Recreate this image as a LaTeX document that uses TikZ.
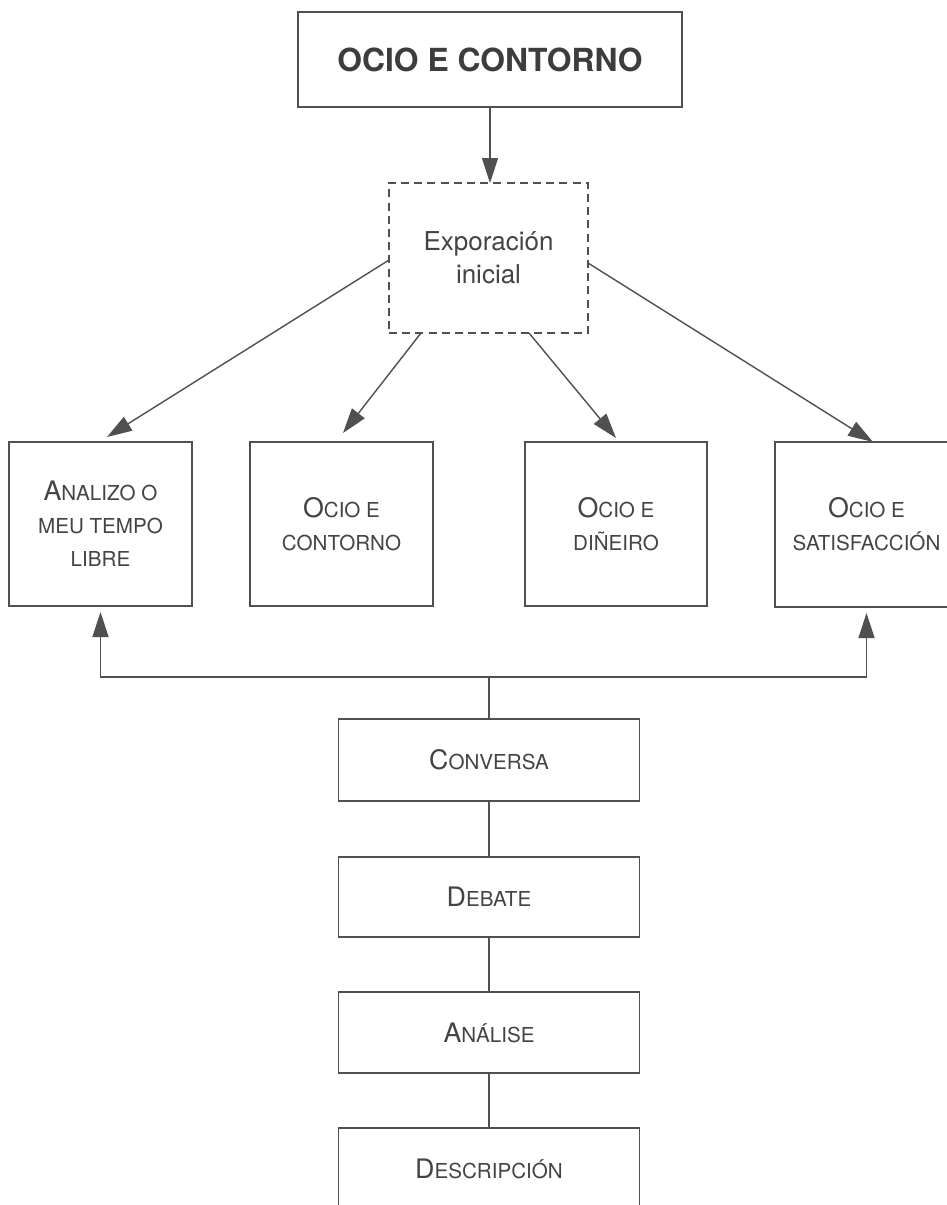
\documentclass[tikz,border=0pt]{standalone}
\usepackage{fontspec}
\setmainfont{TeX Gyre Heros}
\usetikzlibrary{arrows.meta,calc}
\definecolor{lncol}{RGB}{80,80,80}
\definecolor{txcol}{RGB}{68,68,68}
\newcommand\SCbig[1]{{\fontsize{13.4}{16.5}\selectfont #1}}
\begin{document}
\begin{tikzpicture}[x=0.5pt,y=-0.5pt,
  box/.style={draw=lncol,line width=0.75pt,inner sep=0pt,outer sep=0pt,text=txcol,align=center,
    font=\fontsize{10.3}{16.5}\selectfont},
  sqbox/.style={box,minimum width=91.5pt,minimum height=82pt},
  colbox/.style={box,minimum width=150.5pt},
  link/.style={draw=lncol,line width=0.7pt},
  arr/.style={link,-{Triangle[length=12.5pt,width=8pt]}}]
\useasboundingbox (0,0) rectangle (947,1205);
\clip (0,0) rectangle (947,1205);
\fill[white] (0,0) rectangle (947,1205);

\node[box,minimum width=192pt,minimum height=47.5pt,text=txcol!90!black,
  font=\bfseries\fontsize{15.9}{19}\selectfont] (title) at (490,59.5) {OCIO E CONTORNO};
\node[box,dashed,dash pattern=on 4pt off 2.6pt,line width=1.2pt,minimum width=99.5pt,minimum height=75pt,
  font=\fontsize{13}{16.5}\selectfont] (expl) at (488.5,258) {Exporación\\inicial};

\node[sqbox] (b1) at (100.5,524) {\SCbig{A}NALIZO O\\MEU TEMPO\\LIBRE};
\node[sqbox] (b2) at (341.5,524) {\SCbig{O}CIO E\\CONTORNO};
\node[sqbox,minimum width=91pt] (b3) at (616,524) {\SCbig{O}CIO E\\DIÑEIRO};
\node[sqbox,minimum height=82.5pt] (b4) at (866.5,524.5) {\SCbig{O}CIO E\\SATISFACCIÓN};

\node[colbox,minimum height=41pt] (conv) at (489,760) {\SCbig{C}ONVERSA};
\node[colbox,minimum height=40pt] (deb) at (489,897) {\SCbig{D}EBATE};
\node[colbox,minimum height=40.5pt] (ana) at (489,1032.5) {\SCbig{A}NÁLISE};
\node[colbox,minimum height=40.5pt] (des) at (489,1168.5) {\SCbig{D}ESCRIPCIÓN};

\coordinate (j) at (489,677);

\draw[arr] (title.south) -- (title.south |- expl.north);
\draw[arr] ($(expl.west)+(0,2)$) -- ($(b1.north)+(6.5,-5)$);
\draw[arr] ($(expl.south)+(-67.5,0)$) -- ($(b2.north)+(1.5,-9)$);
\draw[arr] ($(expl.south)+(40.5,0)$) -- ($(b3.north)+(0,-4)$);
\draw[arr] ($(expl.east)+(0,5)$) -- ($(b4.north)+(6.5,0)$);

\draw[arr] (j) -| ($(b1.south)+(0,6)$);
\draw[arr] (j) -| ($(b4.south)+(0,6)$);
\draw[link] (j) -- (conv.north);
\draw[link] (conv.south) -- (deb.north);
\draw[link] (deb.south) -- (ana.north);
\draw[link] (ana.south) -- (des.north);
\end{tikzpicture}
\end{document}
